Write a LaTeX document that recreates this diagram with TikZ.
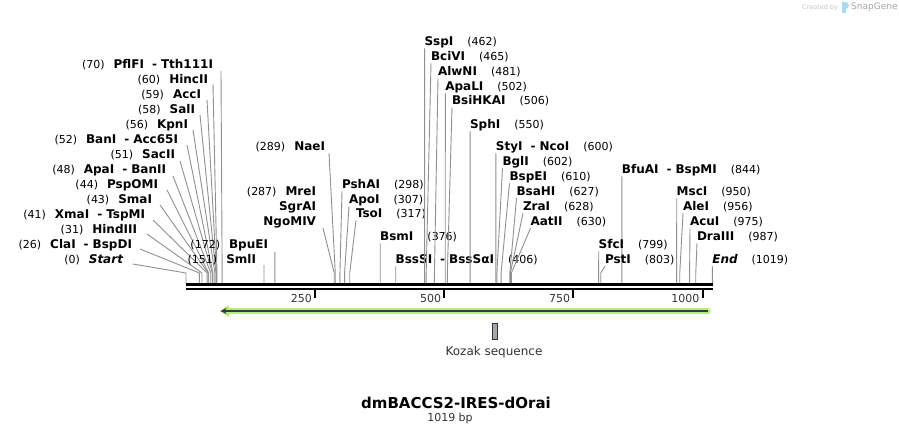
\documentclass[tikz,border=0pt]{standalone}
\usepackage{fontspec}
\setmainfont{DejaVu Sans}
\usetikzlibrary{arrows.meta}
\definecolor{leadgray}{HTML}{909090}
\definecolor{featgreen}{HTML}{B4EE78}
\definecolor{featdark}{HTML}{3A3A3A}
\definecolor{kozakfill}{HTML}{A2A6AE}
\definecolor{wmgray}{HTML}{C4C4C4}
\definecolor{wmblue}{HTML}{A8DAF4}
\definecolor{txtdark}{HTML}{333333}
\tikzset{
  lab/.style={inner sep=0pt, outer sep=0pt, font=\fontsize{11}{13}\selectfont, text height=8.5pt, text depth=2pt},
  leader/.style={draw=leadgray, line width=0.9pt},
  axisline/.style={draw=black, line width=2.7pt},
  tickline/.style={draw=black, line width=2pt},
  ticklab/.style={inner sep=0pt, font=\fontsize{11}{13}\selectfont, text=txtdark},
}
\newcommand\RS[5]{%
  \node[lab,anchor=west] (#1) at (#2,#3) {#5};
  \coordinate (#1k) at ({186+0.5165*#4},273);
  \coordinate (#1a) at ({186+0.5165*#4},283.5);
  \draw[leader] ([yshift=-1pt]#1.south west) -- (#1k) -- (#1a);
}
\newcommand\LS[7]{%
  \node[lab,anchor=east] (#1) at (#2,#3) {#5};
  \coordinate (#1k) at ({186+0.5165*#4},273);
  \coordinate (#1a) at ({186+0.5165*#4},283.5);
  \draw[leader] ([shift={(#6,#7)}]#1.east) -- (#1k) -- (#1a);
}
\newcommand\nm[1]{{\fontsize{12}{13}\selectfont\bfseries #1}}
\newcommand\dsh{\hspace{8pt}-\hspace{4pt}}
\newcommand\rgapx{\hspace{14pt}}
\newcommand\lgapx{\hspace{9pt}}
\begin{document}
\begin{tikzpicture}[x=1pt,y=-1pt]
\useasboundingbox (0,0) rectangle (899,434);
\fill[white] (0,0) rectangle (899,434);

% watermark
\node[inner sep=0pt, anchor=west, font=\fontsize{6.5}{7}\selectfont, text=wmgray] (cb) at (802,7.5) {Created by};
\fill[wmblue] (842,2) rectangle (845.5,13);
\fill[wmblue] (845.5,2) arc[start angle=90, end angle=-90, radius=3.5pt] -- cycle;
\node[inner sep=0pt, anchor=west, font=\fontsize{9}{10}\selectfont, text=wmgray!85!black] (sg) at (851,7.5) {SnapGene};

% ---------- left fan ----------
\LS{pflfi}{213}{65}{70}{(70)\lgapx\nm{PflFI\dsh Tth111I}}{8}{6}
\LS{hincii}{208}{80}{60}{(60)\lgapx\nm{HincII}}{5}{4}
\LS{acci}{201}{95}{59}{(59)\lgapx\nm{AccI}}{6}{5}
\LS{sali}{195}{110}{58}{(58)\lgapx\nm{SalI}}{5}{5}
\LS{kpni}{188}{125}{56}{(56)\lgapx\nm{KpnI}}{5}{5}
\LS{bani}{178}{140}{52}{(52)\lgapx\nm{BanI\dsh Acc65I}}{9}{5}
\LS{sacii}{175}{155}{51}{(51)\lgapx\nm{SacII}}{5}{6}
\LS{apai}{166}{170}{48}{(48)\lgapx\nm{ApaI\dsh BanII}}{7}{6}
\LS{pspomi}{158}{185}{44}{(44)\lgapx\nm{PspOMI}}{9}{5}
\LS{smai}{152}{200}{43}{(43)\lgapx\nm{SmaI}}{8}{5}
\LS{xmai}{145}{215}{41}{(41)\lgapx\nm{XmaI\dsh TspMI}}{8}{5}
\LS{hindiii}{137}{230}{31}{(31)\lgapx\nm{HindIII}}{10}{4}
\LS{clai}{132}{245}{26}{(26)\lgapx\nm{ClaI\dsh BspDI}}{8}{4}
\LS{start}{123}{260}{0}{(0)\lgapx\nm{\itshape Start}}{10}{4}

\LS{bpuei}{268}{245}{172}{(172)\lgapx\nm{BpuEI}}{6.8}{7}
\LS{smli}{256}{260}{151}{(151)\lgapx\nm{SmlI}}{8}{5}

\LS{naei}{325}{147}{289}{(289)\lgapx\nm{NaeI}}{4}{6}
\node[lab,anchor=east] (mrei) at (316,192) {(287)\lgapx\nm{MreI}};
\node[lab,anchor=east] (sgrai) at (316,207) {\nm{SgrAI}};
\LS{ngomiv}{316}{222}{287}{\nm{NgoMIV}}{7}{6}

% ---------- right labels ----------
\RS{psha}{342}{185}{298}{\nm{PshAI}\rgapx(298)}
\RS{apoi}{349}{200}{307}{\nm{ApoI}\rgapx(307)}
\RS{tsoi}{356}{214}{317}{\nm{TsoI}\rgapx(317)}
\RS{bsmi}{380.2}{237}{376}{\nm{BsmI}\rgapx(376)}
\RS{bsssi}{395.7}{260}{406}{\nm{BssSI\dsh BssSαI}\rgapx(406)}

\RS{sspi}{424.6}{42}{462}{\nm{SspI}\rgapx(462)}
\RS{bcivi}{431}{57}{465}{\nm{BciVI}\rgapx(465)}
\RS{alwni}{438}{72}{481}{\nm{AlwNI}\rgapx(481)}
\RS{apali}{445.3}{87}{502}{\nm{ApaLI}\rgapx(502)}
\RS{bsihkai}{452}{101}{506}{\nm{BsiHKAI}\rgapx(506)}
\RS{sphi}{470.1}{125}{550}{\nm{SphI}\rgapx(550)}
\RS{styi}{495.9}{147}{600}{\nm{StyI\dsh NcoI}\rgapx(600)}
\RS{bgli}{502.5}{162}{602}{\nm{BglI}\rgapx(602)}
\RS{bspei}{509.5}{177}{610}{\nm{BspEI}\rgapx(610)}
\RS{bsahi}{516.5}{192}{627}{\nm{BsaHI}\rgapx(627)}
\RS{zrai}{523}{207}{628}{\nm{ZraI}\rgapx(628)}
\RS{aatii}{530.5}{222}{630}{\nm{AatII}\rgapx(630)}

\RS{bfuai}{621.9}{170}{844}{\nm{BfuAI\dsh BspMI}\rgapx(844)}
\RS{sfci}{598.7}{245}{799}{\nm{SfcI}\rgapx(799)}
\RS{psti}{605}{260}{803}{\nm{PstI}\rgapx(803)}
\RS{msci}{676.7}{192}{950}{\nm{MscI}\rgapx(950)}
\RS{alei}{683}{207}{956}{\nm{AleI}\rgapx(956)}
\RS{acui}{690}{222}{975}{\nm{AcuI}\rgapx(975)}
\RS{draiii}{697}{237}{987}{\nm{DraIII}\rgapx(987)}
\RS{endl}{712.3}{260}{1019}{\nm{\itshape End}\rgapx(1019)}

% ---------- axis ----------
\coordinate (axL1) at (186,284.6);
\coordinate (axR1) at (712.6,284.6);
\coordinate (axL2) at (186,289);
\coordinate (axR2) at (712.6,289);
\draw[axisline] (axL1) -- (axR1);
\draw[axisline] (axL2) -- (axR2);
\foreach \t in {250,500,750,1000}{
  \coordinate (tk\t) at ({186+0.5165*\t},290);
  \draw[tickline] (tk\t) -- ++(0,7.5);
  \node[ticklab,anchor=east] (tl\t) at ([xshift=-3pt,yshift=-8pt]tk\t) {\t};
}

% ---------- feature arrow ----------
\coordinate (arrR) at (708,311);
\coordinate (arrL) at (218,311);
\draw[featgreen, line width=5.5pt, line cap=round, -{Triangle[length=9pt,width=11pt]}] (arrR) -- ([xshift=2pt]arrL);
\draw[featdark, line width=1.8pt, -{Stealth[length=6pt,width=6pt]}] (arrR) -- ([xshift=2.5pt]arrL);

% ---------- Kozak ----------
\node[draw=txtdark, fill=kozakfill, line width=0.8pt, minimum width=5.5pt, minimum height=16pt, inner sep=0pt] (kozak) at (495,331) {};
\node[inner sep=0pt, font=\fontsize{12}{14}\selectfont, text=txtdark] (kozaklab) at (494,352) {Kozak sequence};

% ---------- title ----------
\node[inner sep=0pt, font=\bfseries\fontsize{15}{17}\selectfont] (title) at (456,403) {dmBACCS2-IRES-dOrai};
\node[inner sep=0pt, font=\fontsize{11}{13}\selectfont, text=txtdark] (bp) at (450,418) {1019 bp};
\end{tikzpicture}
\end{document}
